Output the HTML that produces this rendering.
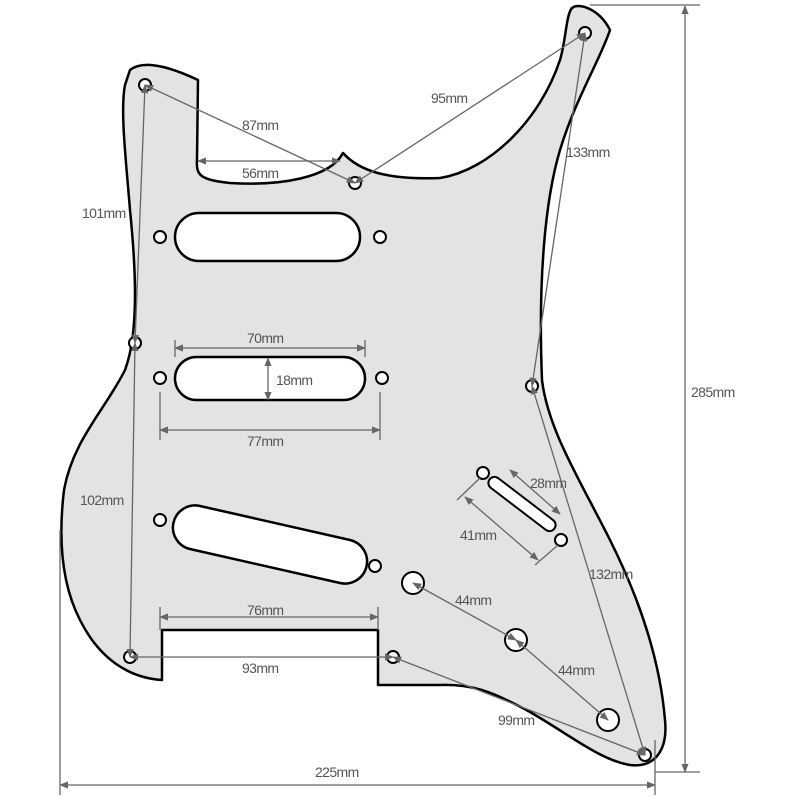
<!DOCTYPE html>
<html><head><style>
html,body{margin:0;padding:0;background:#fff;}
svg{display:block;}
text{font-family:"Liberation Sans",sans-serif;font-size:14px;fill:#555;letter-spacing:-0.6px;}
</style></head><body>
<svg width="800" height="800" viewBox="0 0 800 800" xmlns="http://www.w3.org/2000/svg">
<defs>
<marker id="a" viewBox="0 0 10 10" refX="9" refY="5" markerWidth="7" markerHeight="7" orient="auto-start-reverse"><path d="M0,1 L10,5 L0,9 z" fill="#666"/></marker>
</defs>
<path d="M130,70 C140,62 160,62 198,80 L197,160 C196,175 200,180 230,183 C280,186 330,178 343,153 C360,172 390,180 440,178 C490,170 540,120 560,60 C566,40 566,15 572,8 C580,2 600,10 610,30 C600,60 575,100 560,150 C545,200 538,280 542,380 C548,430 580,480 610,540 C640,600 660,660 665,720 C668,750 655,768 630,765 C600,760 570,735 530,712 C490,690 470,684 440,685 L378,685 L378,630 L162,630 L162,680 C130,678 100,660 80,620 C62,585 58,540 64,490 C73,440 105,410 125,370 C140,330 135,260 130,210 C126,160 120,110 125,85 Z" fill="#e3e3e3" stroke="#000" stroke-width="2.5" stroke-linejoin="round"/>
<rect x="175" y="213" width="185" height="48" rx="24" fill="#fff" stroke="#000" stroke-width="2.5"/>
<rect x="175" y="357" width="190" height="43" rx="21.5" fill="#fff" stroke="#000" stroke-width="2.5"/>
<path d="M200,506 L350,540 A22,22 0 0 1 340,583 L190,549 A22,22 0 0 1 200,506 Z" fill="#fff" stroke="#000" stroke-width="2.5"/>
<path d="M498,478 L553,520 A6,6 0 0 1 546,530 L491,488 A6,6 0 0 1 498,478 Z" fill="#fff" stroke="#000" stroke-width="2"/>
<g fill="#fff" stroke="#000" stroke-width="2">
<circle cx="145" cy="85" r="6"/><circle cx="355" cy="183" r="6"/><circle cx="585" cy="33" r="6"/>
<circle cx="160" cy="237" r="6"/><circle cx="380" cy="237" r="6"/><circle cx="135" cy="343" r="6"/>
<circle cx="160" cy="378" r="6"/><circle cx="382" cy="378" r="6"/><circle cx="532" cy="386" r="6"/>
<circle cx="160" cy="520" r="6"/><circle cx="375" cy="566" r="6"/><circle cx="483" cy="473" r="6"/>
<circle cx="561" cy="540" r="6"/><circle cx="130" cy="657" r="6"/><circle cx="393" cy="657" r="6"/>
<circle cx="645" cy="755" r="6"/>
<circle cx="413" cy="583" r="11"/><circle cx="516" cy="640" r="11"/><circle cx="608" cy="720" r="11"/>
</g>
<g stroke="#666" stroke-width="1.3" fill="none">
<line x1="145" y1="85" x2="355" y2="183" marker-start="url(#a)" marker-end="url(#a)"/>
<line x1="355" y1="183" x2="585" y2="33" marker-start="url(#a)" marker-end="url(#a)"/>
<line x1="585" y1="33" x2="532" y2="386" marker-start="url(#a)" marker-end="url(#a)"/>
<line x1="145" y1="85" x2="135" y2="343" marker-start="url(#a)" marker-end="url(#a)"/>
<line x1="135" y1="343" x2="130" y2="657" marker-start="url(#a)" marker-end="url(#a)"/>
<line x1="130" y1="657" x2="393" y2="657" marker-start="url(#a)" marker-end="url(#a)"/>
<line x1="393" y1="657" x2="645" y2="755" marker-start="url(#a)" marker-end="url(#a)"/>
<line x1="532" y1="386" x2="645" y2="755" marker-start="url(#a)" marker-end="url(#a)"/>
<line x1="413" y1="583" x2="516" y2="640" marker-start="url(#a)" marker-end="url(#a)"/>
<line x1="516" y1="640" x2="608" y2="720" marker-start="url(#a)" marker-end="url(#a)"/>
<line x1="198" y1="161" x2="340" y2="161" marker-start="url(#a)" marker-end="url(#a)"/>
<line x1="175" y1="348" x2="365" y2="348" marker-start="url(#a)" marker-end="url(#a)"/>
<line x1="175" y1="340" x2="175" y2="357"/><line x1="365" y1="340" x2="365" y2="357"/>
<line x1="268" y1="358" x2="268" y2="400" marker-start="url(#a)" marker-end="url(#a)"/>
<line x1="160" y1="430" x2="380" y2="430" marker-start="url(#a)" marker-end="url(#a)"/>
<line x1="160" y1="392" x2="160" y2="440"/><line x1="380" y1="392" x2="380" y2="440"/>
<line x1="160" y1="617" x2="378" y2="617" marker-start="url(#a)" marker-end="url(#a)"/>
<line x1="160" y1="607" x2="160" y2="630"/><line x1="378" y1="607" x2="378" y2="630"/>
<line x1="510" y1="470" x2="560" y2="514" marker-start="url(#a)" marker-end="url(#a)"/>
<line x1="465" y1="497" x2="538" y2="560" marker-start="url(#a)" marker-end="url(#a)"/>
<line x1="457" y1="500" x2="480" y2="478"/><line x1="535" y1="565" x2="558" y2="545"/>
<line x1="685" y1="6" x2="685" y2="772" marker-start="url(#a)" marker-end="url(#a)"/>
<line x1="590" y1="5" x2="700" y2="5"/><line x1="655" y1="772" x2="700" y2="772"/>
<line x1="60" y1="785" x2="655" y2="785" marker-start="url(#a)" marker-end="url(#a)"/>
<line x1="60" y1="530" x2="60" y2="795"/><line x1="655" y1="740" x2="655" y2="795"/>
</g>
<text x="242" y="130">87mm</text>
<text x="242" y="178">56mm</text>
<text x="431" y="103">95mm</text>
<text x="566" y="157">133mm</text>
<text x="82" y="218">101mm</text>
<text x="247" y="343">70mm</text>
<text x="276" y="385">18mm</text>
<text x="247" y="446">77mm</text>
<text x="80" y="505">102mm</text>
<text x="530" y="488">28mm</text>
<text x="460" y="540">41mm</text>
<text x="589" y="579">132mm</text>
<text x="455" y="605">44mm</text>
<text x="558" y="675">44mm</text>
<text x="247" y="615">76mm</text>
<text x="242" y="673">93mm</text>
<text x="498" y="725">99mm</text>
<text x="691" y="397">285mm</text>
<text x="315" y="777">225mm</text>
</svg>
</body></html>
